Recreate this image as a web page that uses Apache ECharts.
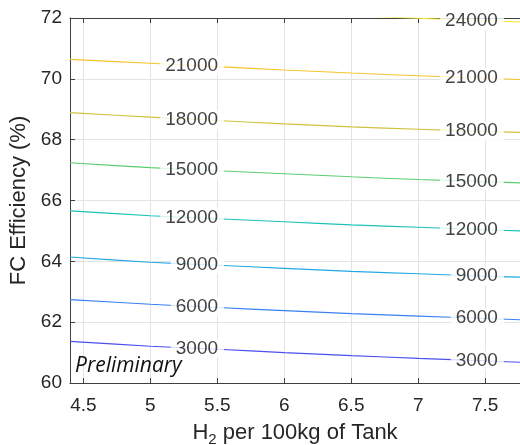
<!DOCTYPE html>
<html><head><meta charset="utf-8">
<script src="https://cdn.jsdelivr.net/npm/echarts@6/dist/echarts.min.js"></script>
<style>html,body{margin:0;padding:0;background:#fff}#c{width:520px;height:445px}</style>
</head><body><div id="c"></div>
<script>
// x positions where each contour level was read
const xSamples = [4.4, 5.0, 5.5, 6.0, 6.5, 7.0, 7.5, 7.76];
const levels = [3000, 6000, 9000, 12000, 15000, 18000, 21000];
const lvl3000  = [61.37, 61.21, 61.11, 61.00, 60.90, 60.81, 60.73, 60.68];
const lvl6000  = [62.74, 62.59, 62.48, 62.38, 62.28, 62.20, 62.12, 62.08];
const lvl9000  = [64.14, 63.97, 63.87, 63.77, 63.67, 63.59, 63.51, 63.48];
const lvl12000 = [65.66, 65.50, 65.40, 65.30, 65.20, 65.12, 65.04, 65.00];
const lvl15000 = [67.24, 67.08, 66.98, 66.88, 66.78, 66.69, 66.62, 66.58];
const lvl18000 = [68.89, 68.74, 68.63, 68.52, 68.42, 68.34, 68.27, 68.24];
const lvl21000 = [70.64, 70.51, 70.40, 70.29, 70.19, 70.10, 70.02, 69.98];
// 24000 is only visible near the top right
const x24000 = [6.5, 7.0, 7.5, 7.76];
const lvl24000 = [72.08, 71.99, 71.91, 71.87];
const xTicks = [4.5, 5, 5.5, 6, 6.5, 7, 7.5];
const yTicks = [60, 62, 64, 66, 68, 70, 72];
// right ends of inline contour labels (data x)
const labelRightX = [5.55, 7.64];
const levelColors = ['#4b50f2', '#3a80f6', '#22a9e4', '#1cc2b6', '#5ccc70', '#cfc23c', '#f6c42c', '#f2e626'];

const lines = [
  {level: 3000, xs: xSamples, ys: lvl3000},
  {level: 6000, xs: xSamples, ys: lvl6000},
  {level: 9000, xs: xSamples, ys: lvl9000},
  {level: 12000, xs: xSamples, ys: lvl12000},
  {level: 15000, xs: xSamples, ys: lvl15000},
  {level: 18000, xs: xSamples, ys: lvl18000},
  {level: 21000, xs: xSamples, ys: lvl21000},
  {level: 24000, xs: x24000, ys: lvl24000}
];

function interp(xs, ys, x) {
  if (x < xs[0] || x > xs[xs.length - 1]) return null;
  for (let i = 0; i < xs.length - 1; i++) {
    if (x >= xs[i] && x <= xs[i + 1]) {
      const t = (x - xs[i]) / (xs[i + 1] - xs[i]);
      return ys[i] + t * (ys[i + 1] - ys[i]);
    }
  }
  return ys[ys.length - 1];
}

const FONT = 'Liberation Sans, Arial, Helvetica, sans-serif';
const series = [];
lines.forEach((L, i) => {
  series.push({
    type: 'line', xAxisIndex: 0, yAxisIndex: 0,
    data: L.xs.map((x, k) => [x, L.ys[k]]),
    showSymbol: false, smooth: 0.3, clip: true, silent: true,
    lineStyle: {color: levelColors[i], width: 1.1},
    z: 2
  });
  const pts = [];
  labelRightX.forEach(rx => {
    const y = interp(L.xs, L.ys, rx - 0.2);
    if (y !== null && y <= 72) pts.push({value: [rx, y], level: L.level});
  });
  series.push({
    type: 'scatter', xAxisIndex: 0, yAxisIndex: 0, symbolSize: 0.001, silent: true, clip: false,
    data: pts, z: 5,
    label: {
      show: true, position: 'left', distance: 0,
      formatter: p => String(p.data.level),
      backgroundColor: '#ffffff', padding: [0, 6, 0, 5],
      color: '#111', fontSize: 19, fontFamily: FONT
    }
  });
});

const chart = echarts.init(document.getElementById('c'), null, {renderer: 'canvas'});
chart.setOption({
  animation: false,
  backgroundColor: '#ffffff',
  grid: {left: 70, right: 0, top: 18, bottom: 62, containLabel: false, outerBoundsMode: 'none'},
  xAxis: [{
    type: 'value', min: 4.4, max: 7.76, position: 'bottom',
    name: 'H{sub|2} per 100kg of Tank', nameLocation: 'middle', nameGap: 35,
    nameTextStyle: {color: '#262626', fontSize: 22, fontFamily: FONT,
      rich: {sub: {fontSize: 15, verticalAlign: 'bottom', padding: [14, 0, 0, 0], color: '#262626', fontFamily: FONT}}},
    axisLine: {show: true, lineStyle: {color: '#404040', width: 1}},
    axisTick: {show: true, inside: true, length: 5, customValues: xTicks, lineStyle: {color: '#404040'}},
    axisLabel: {customValues: xTicks, color: '#262626', fontSize: 19, fontFamily: FONT, margin: 13,
      formatter: v => String(v)},
    splitLine: {show: true, lineStyle: {color: '#e3e3e3', width: 1}}
  }, {
    type: 'value', min: 4.4, max: 7.76, position: 'top',
    axisLine: {show: true, lineStyle: {color: '#404040', width: 1}},
    axisTick: {show: true, inside: true, length: 5, customValues: xTicks, lineStyle: {color: '#404040'}},
    axisLabel: {show: false},
    splitLine: {show: false}
  }],
  yAxis: [{
    type: 'value', min: 60, max: 72, interval: 2,
    name: 'FC Efficiency (%)', nameLocation: 'middle', nameGap: 40,
    nameTextStyle: {color: '#262626', fontSize: 22, fontFamily: FONT},
    axisLine: {show: true, lineStyle: {color: '#404040', width: 1}},
    axisTick: {show: true, inside: true, length: 5, lineStyle: {color: '#404040'}},
    axisLabel: {color: '#262626', fontSize: 19, fontFamily: FONT, margin: 8},
    splitLine: {show: true, lineStyle: {color: '#e3e3e3', width: 1}}
  }],
  graphic: [{
    type: 'text', left: 75, top: 356, z: 10,
    style: {text: 'Preliminary', font: 'italic 21px "Open Sans", sans-serif', fill: '#111'}
  }],
  series: series
});
</script>
</body></html>
